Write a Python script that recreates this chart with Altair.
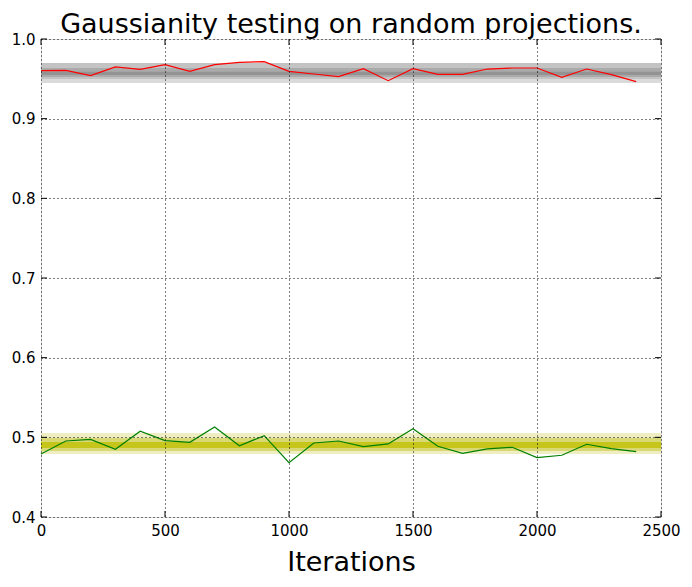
import altair as alt
import pandas as pd

iterations = list(range(0, 2500, 100))
red_values = [0.9602, 0.9607, 0.9540, 0.9649, 0.9619, 0.9678, 0.9594, 0.9678, 0.9707, 0.9715,
              0.9594, 0.9561, 0.9527, 0.9628, 0.9477, 0.9628, 0.9556, 0.9556, 0.9623, 0.9636,
              0.9636, 0.9519, 0.9623, 0.9552, 0.9464]
green_values = [0.4791, 0.4954, 0.4975, 0.4850, 0.5076, 0.4958, 0.4938, 0.5130, 0.4895, 0.5021,
                0.4682, 0.4929, 0.4954, 0.4883, 0.4917, 0.5109, 0.4888, 0.4800, 0.4854, 0.4875,
                0.4745, 0.4775, 0.4913, 0.4858, 0.4820]

band_low = [0.9448, 0.9498, 0.9523, 0.9548, 0.4791, 0.4829, 0.4867]
band_high = [0.9699, 0.9699, 0.9636, 0.9590, 0.5055, 0.4992, 0.4942]
band_color = ["#dadada", "#c3c3c3", "#aaaaaa", "#939393", "#eeeec2", "#d8d874", "#c5c51c"]

x_ticks = [0, 500, 1000, 1500, 2000, 2500]
y_ticks = [0.4, 0.5, 0.6, 0.7, 0.8, 0.9, 1.0]

FONT = "DejaVu Sans"
W, H, TICK = 620, 478, 6

lines_df = pd.DataFrame({
    "iter": iterations * 2,
    "value": red_values + green_values,
    "series": ["red"] * len(red_values) + ["green"] * len(green_values),
})
bands_df = pd.DataFrame({
    "lo": band_low, "hi": band_high, "color": band_color,
    "order": list(range(len(band_low))),
    "x0": [0] * len(band_low), "x1": [2500] * len(band_low),
})
xt_df = pd.DataFrame({"xt": x_ticks})
yt_df = pd.DataFrame({"yt": y_ticks})

xscale = alt.Scale(domain=[0, 2500], nice=False, zero=False)
yscale = alt.Scale(domain=[0.4, 1.0], nice=False, zero=False)

xaxis = alt.Axis(values=x_ticks, format="d", grid=True, gridColor="black", gridDash=[1, 3],
                 gridOpacity=1, gridWidth=1, domain=False, tickSize=0, labelPadding=6,
                 labelFont=FONT, labelFontSize=15, labelColor="black",
                 title="Iterations", titleFont=FONT, titleFontSize=27, titleFontWeight="normal",
                 titleColor="black", titlePadding=11, zindex=1, labelFlush=False)
yaxis = alt.Axis(values=y_ticks, format=".1f", grid=True, gridColor="black", gridDash=[1, 3],
                 gridOpacity=1, gridWidth=1, domain=False, tickSize=0, labelPadding=6,
                 labelFont=FONT, labelFontSize=15, labelColor="black", title=None, zindex=1,
                 labelFlush=False)

bands = alt.Chart(bands_df).mark_rect().encode(
    x=alt.X("x0:Q", scale=xscale, axis=xaxis),
    x2="x1:Q",
    y=alt.Y("lo:Q", scale=yscale, axis=yaxis),
    y2="hi:Q",
    color=alt.Color("color:N", scale=None),
    order="order:O",
)

lines = alt.Chart(lines_df).mark_line(strokeWidth=1.2).encode(
    x=alt.X("iter:Q", scale=xscale),
    y=alt.Y("value:Q", scale=yscale),
    detail="series:N",
    color=alt.Color("series:N", scale=alt.Scale(domain=["red", "green"], range=["#ff0000", "#008000"]), legend=None),
)

yt_left = alt.Chart(yt_df).mark_rule(color="black", strokeWidth=1).encode(
    y=alt.Y("yt:Q", scale=yscale), x=alt.value(0), x2=alt.value(TICK))
yt_right = alt.Chart(yt_df).mark_rule(color="black", strokeWidth=1).encode(
    y=alt.Y("yt:Q", scale=yscale), x=alt.value(W - TICK), x2=alt.value(W))
xt_bottom = alt.Chart(xt_df).mark_rule(color="black", strokeWidth=1).encode(
    x=alt.X("xt:Q", scale=xscale), y=alt.value(H - TICK), y2=alt.value(H))
xt_top = alt.Chart(xt_df).mark_rule(color="black", strokeWidth=1).encode(
    x=alt.X("xt:Q", scale=xscale), y=alt.value(0), y2=alt.value(TICK))

chart = alt.layer(bands, lines, yt_left, yt_right, xt_bottom, xt_top).properties(
    width=W, height=H,
    title=alt.TitleParams("Gaussianity testing on random projections.", font=FONT, fontSize=27,
                          fontWeight="normal", color="black", offset=4, dy=11),
    autosize=alt.AutoSizeParams(type="none"),
    padding={"left": 33, "top": 31, "right": 23, "bottom": 62},
).configure_view(stroke="black", strokeWidth=1.2).configure(background="white")

chart.save("out.html", embed_options={"renderer": "svg", "actions": False})
